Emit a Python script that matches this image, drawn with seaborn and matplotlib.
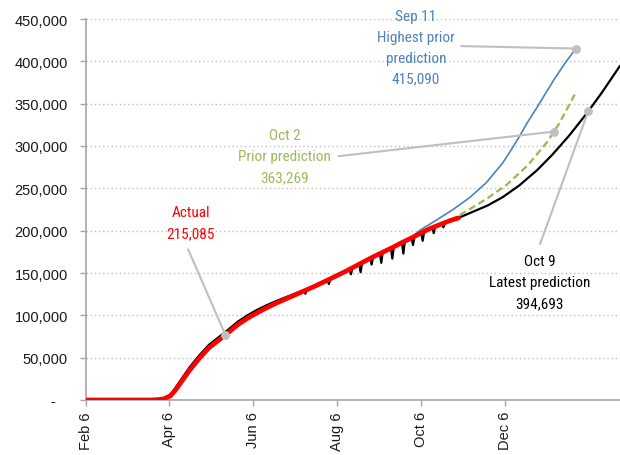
import pandas as pd
import numpy as np
import matplotlib
matplotlib.use("Agg")
import matplotlib.pyplot as plt
import matplotlib.dates as mdates
from matplotlib import font_manager
from matplotlib.ticker import FuncFormatter
import seaborn as sns

# actual cumulative deaths (red)
actual_dates = ["2020-02-06", "2020-03-24", "2020-03-28", "2020-04-02", "2020-04-07",
                "2020-04-10", "2020-04-14", "2020-04-21", "2020-04-28", "2020-05-05",
                "2020-05-12", "2020-05-19", "2020-05-26", "2020-06-02", "2020-06-09",
                "2020-06-16", "2020-06-23", "2020-06-30", "2020-07-07", "2020-07-14",
                "2020-07-21", "2020-07-28", "2020-08-04", "2020-08-11", "2020-08-18",
                "2020-08-25", "2020-09-01", "2020-09-08", "2020-09-15", "2020-09-22",
                "2020-09-29", "2020-10-06", "2020-10-13", "2020-10-20", "2020-10-27",
                "2020-11-02"]
actual_deaths = [0, 0, 300, 1200, 4700,
                 10000, 18900, 35000, 49000, 61500,
                 70500, 79500, 89000, 96500, 103000,
                 109000, 114500, 119500, 124500, 129500,
                 134500, 140000, 145500, 151000, 157000,
                 163000, 169000, 174500, 180000, 186000,
                 191500, 197500, 203000, 207500, 212000,
                 215085]

# Oct 9 model, reported history (with reporting dips)
hist_dates = ["2020-02-06", "2020-03-24", "2020-03-28", "2020-04-02", "2020-04-07",
              "2020-04-10", "2020-04-14", "2020-04-21", "2020-04-28", "2020-05-05",
              "2020-05-12", "2020-05-19", "2020-05-26", "2020-06-02", "2020-06-09",
              "2020-06-16", "2020-06-23", "2020-06-30", "2020-07-07",
              "2020-07-13", "2020-07-14", "2020-07-15", "2020-07-21",
              "2020-07-30", "2020-07-31", "2020-08-01", "2020-08-08",
              "2020-08-15", "2020-08-16", "2020-08-17",
              "2020-08-22", "2020-08-23", "2020-08-24",
              "2020-08-30", "2020-08-31", "2020-09-01",
              "2020-09-06", "2020-09-07", "2020-09-08",
              "2020-09-14", "2020-09-15", "2020-09-16",
              "2020-09-22", "2020-09-23", "2020-09-24",
              "2020-09-29", "2020-09-30", "2020-10-01",
              "2020-10-06", "2020-10-07", "2020-10-08",
              "2020-10-14", "2020-10-15", "2020-10-16",
              "2020-10-21", "2020-10-22", "2020-10-23",
              "2020-10-27", "2020-11-02"]
hist_deaths = [0, 0, 400, 1600, 6000,
               12500, 22000, 38500, 52500, 65000,
               74000, 83000, 92500, 100000, 106500,
               112000, 117000, 121500, 126000,
               129500, 125500, 130500, 135000,
               141500, 137000, 142500, 148500,
               154500, 148500, 155500,
               160500, 151000, 161500,
               167000, 160000, 168500,
               173000, 162000, 174500,
               179000, 167000, 180500,
               185500, 173000, 187000,
               191000, 183000, 192500,
               197000, 188000, 198500,
               203500, 197000, 204500,
               208000, 204000, 209000,
               212000, 215085]

# Oct 9 projection (black)
latest_dates = ["2020-11-23", "2020-12-04", "2020-12-16", "2020-12-29", "2021-01-09",
                "2021-01-21", "2021-02-03", "2021-02-14", "2021-02-27"]
latest_deaths = [229700, 239600, 253400, 271600, 289800,
                 312000, 338700, 363400, 394693]

# Sep 11 projection (blue)
sep11_dates = ["2020-09-29", "2020-10-05", "2020-10-17", "2020-10-29", "2020-11-10",
               "2020-11-22", "2020-12-04", "2020-12-10", "2020-12-16", "2020-12-22",
               "2020-12-29", "2021-01-04", "2021-01-10", "2021-01-18", "2021-01-26"]
sep11_deaths = [191500, 200500, 212500, 225000, 239000,
                256500, 280000, 295000, 311000, 328000,
                346000, 362000, 378000, 397500, 415090]

# Oct 2 projection (green, dashed)
oct2_dates = ["2020-10-27", "2020-11-10", "2020-11-23", "2020-12-07", "2020-12-22",
              "2021-01-05", "2021-01-14", "2021-01-26"]
oct2_deaths = [212000, 225300, 238300, 254400, 276900,
               304200, 326700, 363269]

tick_dates = ["2020-02-06", "2020-04-06", "2020-06-06", "2020-08-06", "2020-10-06", "2020-12-06"]
tick_labels = ["Feb 6", "Apr 6", "Jun 6", "Aug 6", "Oct 6", "Dec 6"]

BLUE = "#4F81BD"
GREEN = "#9BBB59"
RED = "#FF0000"
GREY = "#BFBFBF"

sns.set_style("white")
names = {f.name for f in font_manager.fontManager.ttflist}
narrow = next((n for n in ["Liberation Sans Narrow", "Roboto Condensed", "DejaVu Sans Condensed"]
               if n in names), "Liberation Sans")
plt.rcParams["font.family"] = ["Liberation Sans", "DejaVu Sans"]

fig = plt.figure(figsize=(6.2, 4.56), dpi=100)
ax = fig.add_axes([86 / 620, 1 - 401 / 456, 1 - 86 / 620, (401 - 20) / 456])

black = pd.DataFrame({"date": pd.to_datetime(hist_dates + latest_dates),
                      "deaths": hist_deaths + latest_deaths})
blue = pd.DataFrame({"date": pd.to_datetime(sep11_dates), "deaths": sep11_deaths})
green = pd.DataFrame({"date": pd.to_datetime(oct2_dates), "deaths": oct2_deaths})
red = pd.DataFrame({"date": pd.to_datetime(actual_dates), "deaths": actual_deaths})

sns.lineplot(data=blue, x="date", y="deaths", ax=ax, color=BLUE, linewidth=1.2, zorder=3)
sns.lineplot(data=green, x="date", y="deaths", ax=ax, color=GREEN, linewidth=1.7,
             linestyle=(0, (3, 1.6)), zorder=3)
sns.lineplot(data=black, x="date", y="deaths", ax=ax, color="black", linewidth=1.6, zorder=4)
sns.lineplot(data=red, x="date", y="deaths", ax=ax, color=RED, linewidth=3.4, zorder=5)

# callouts: dot on line, grey leader, label
callouts = [
    # dot date, dot value, leader start date, leader start value, text date, text value, text, colour
    ("2020-05-17", 77000, "2020-04-20", 178000, "2020-04-22", 209500, "Actual\n215,085", RED),
    ("2021-01-26", 415090, "2020-11-04", 418000, "2020-10-02", 416500,
     "Sep 11\nHighest prior\nprediction\n415,090", BLUE),
    ("2021-01-10", 317000, "2020-08-07", 288000, "2020-06-29", 288000,
     "Oct 2\nPrior prediction\n363,269", GREEN),
    ("2021-02-04", 341000, "2020-12-31", 184000, "2020-12-31", 139000,
     "Oct 9\nLatest prediction\n394,693", "black"),
]
for d, v, ld, lv, td, tv, txt, col in callouts:
    p = (mdates.date2num(pd.Timestamp(d)), v)
    s = (mdates.date2num(pd.Timestamp(ld)), lv)
    ax.annotate("", xy=p, xytext=s, zorder=6,
                arrowprops=dict(arrowstyle="-", color=GREY, lw=1.5, shrinkA=0, shrinkB=0))
    ax.scatter([p[0]], [p[1]], s=40, color=GREY, zorder=7, linewidths=0)
    ax.text(mdates.date2num(pd.Timestamp(td)), tv, txt, ha="center", va="center",
            multialignment="center", color=col, fontsize=11, family=narrow,
            linespacing=1.62, zorder=8)

ax.set_xlim(pd.Timestamp("2020-02-06"), pd.Timestamp("2021-02-27"))
ax.set_ylim(0, 450000)
ax.set_yticks(np.arange(0, 450001, 50000))
ax.yaxis.set_major_formatter(FuncFormatter(lambda v, pos: "-   " if v == 0 else f"{v:,.0f}"))
ax.set_xticks(pd.to_datetime(tick_dates))
ax.set_xticklabels(tick_labels, rotation=90)
ax.set_xlabel("")
ax.set_ylabel("")

ax.yaxis.grid(True, linestyle=(0, (1, 2)), color=GREY, linewidth=1)
ax.xaxis.grid(False)
ax.set_axisbelow(True)
for side in ["top", "right"]:
    ax.spines[side].set_visible(False)
for side in ["left", "bottom"]:
    ax.spines[side].set_color("#A6A6A6")
    ax.spines[side].set_linewidth(1.2)
ax.tick_params(axis="y", length=4, width=1, color="#A6A6A6", pad=9, labelsize=10.5,
               labelcolor="#1a1a1a", left=True)
ax.tick_params(axis="x", length=4, width=1, color="#A6A6A6", pad=4, labelsize=10.5,
               labelcolor="#1a1a1a", bottom=True)

fig.savefig("out.png", dpi=100)
